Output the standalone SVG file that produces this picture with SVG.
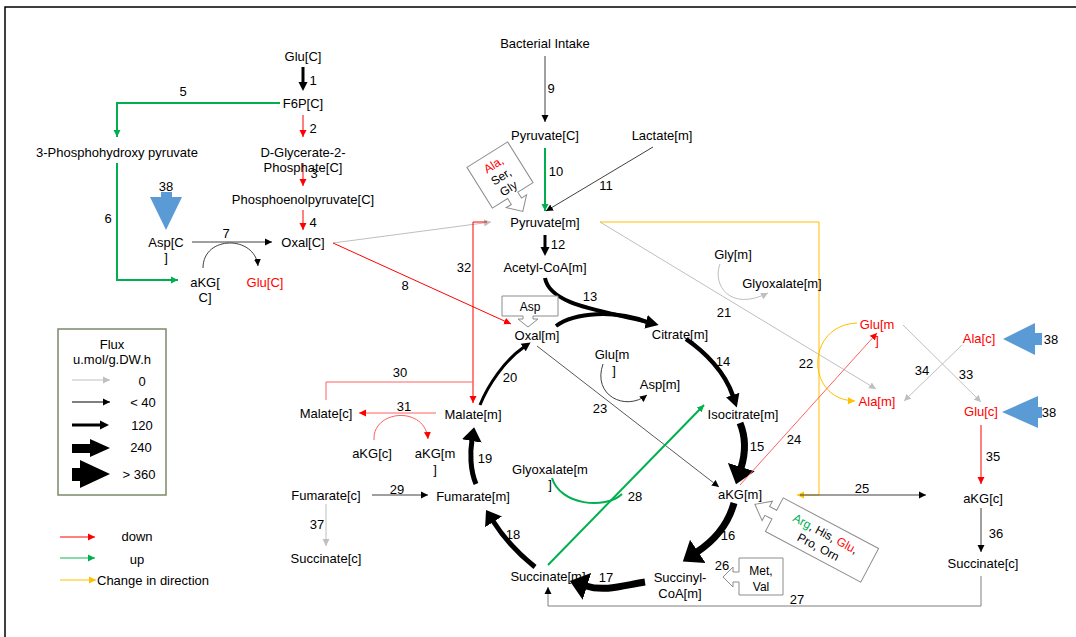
<svg xmlns="http://www.w3.org/2000/svg" width="1076" height="637" viewBox="0 0 1076 637">
<style>
text{font-family:"Liberation Sans",Arial,sans-serif;font-size:13px;fill:#000;text-anchor:middle}
.r{fill:#FF0000}
.g{fill:#00B050}
.sm{font-size:12px}
.ln{fill:none;stroke:#000;stroke-width:1}
.dk{fill:none;stroke:#404040;stroke-width:1}
.gy{fill:none;stroke:#BFBFBF;stroke-width:1}
.rd{fill:none;stroke:#FF0000;stroke-width:1}
.rl{fill:none;stroke:#FF6060;stroke-width:1}
.gn{fill:none;stroke:#00B050;stroke-width:2}
.yl{fill:none;stroke:#FFC000;stroke-width:1}
.th{fill:none;stroke:#000}
.co{fill:#fff;stroke:#8C8C8C;stroke-width:1}
.bl{fill:#5B9BD5}
</style>
<defs>
<marker id="mk" markerUnits="userSpaceOnUse" markerWidth="8" markerHeight="8" refX="7" refY="4" orient="auto"><path d="M0,0.5 L7,4 L0,7.5 z" fill="#000"/></marker>
<marker id="mgy" markerUnits="userSpaceOnUse" markerWidth="8" markerHeight="8" refX="7" refY="4" orient="auto"><path d="M0,0.5 L7,4 L0,7.5 z" fill="#BFBFBF"/></marker>
<marker id="mr" markerUnits="userSpaceOnUse" markerWidth="8" markerHeight="8" refX="7" refY="4" orient="auto"><path d="M0,0.5 L7,4 L0,7.5 z" fill="#FF0000"/></marker>
<marker id="mg" markerUnits="userSpaceOnUse" markerWidth="8" markerHeight="8" refX="7" refY="4" orient="auto"><path d="M0,0.5 L7,4 L0,7.5 z" fill="#00B050"/></marker>
<marker id="my" markerUnits="userSpaceOnUse" markerWidth="8" markerHeight="8" refX="7" refY="4" orient="auto"><path d="M0,0.5 L7,4 L0,7.5 z" fill="#FFC000"/></marker>
<marker id="m3" markerUnits="userSpaceOnUse" markerWidth="10" markerHeight="10" refX="1" refY="5" orient="auto"><path d="M0,0.5 L9,5 L0,9.5 z" fill="#000"/></marker>
<marker id="m13" markerUnits="userSpaceOnUse" markerWidth="14" markerHeight="16" refX="1" refY="8" orient="auto"><path d="M0,1 L13,8 L0,15 z" fill="#000"/></marker>
<marker id="m5" markerUnits="userSpaceOnUse" markerWidth="16" markerHeight="22" refX="1" refY="11" orient="auto"><path d="M0,1 L14,11 L0,21 z" fill="#000"/></marker>
<marker id="m7" markerUnits="userSpaceOnUse" markerWidth="20" markerHeight="30" refX="1" refY="15" orient="auto"><path d="M0,1 L18,15 L0,29 z" fill="#000"/></marker>
</defs>
<rect width="1076" height="637" fill="#fff"/>
<path d="M5,637 V7 H1076" fill="none" stroke="#000" stroke-width="1.5"/>

<g id="connectors">
<path class="th" stroke-width="3" d="M303,67 V83" marker-end="url(#m3)"/>
<path class="rd" d="M303,115 V137" marker-end="url(#mr)"/>
<path class="rd" d="M303,163 V186" marker-end="url(#mr)"/>
<path class="rd" d="M303,210 V230" marker-end="url(#mr)"/>
<path class="gn" d="M280,103 H117 V137" marker-end="url(#mg)"/>
<path class="gn" d="M117,163 V280 H178" marker-end="url(#mg)"/>
<path class="dk" d="M192,242 H272" marker-end="url(#mk)"/>
<path class="dk" d="M203,268 C203,235 255,235 258,266" marker-end="url(#mk)"/>
<path class="gy" d="M333,243 L491,222" marker-end="url(#mgy)"/>
<path class="rd" d="M333,243 L511,324" marker-end="url(#mr)"/>
<path class="dk" d="M545,56 V122" marker-end="url(#mk)"/>
<path class="gn" stroke-width="1.5" d="M545,148 V211" marker-end="url(#mg)"/>
<path class="dk" d="M653,147 L546,211" marker-end="url(#mk)"/>
<path class="th" stroke-width="3" d="M545,235 V248" marker-end="url(#m3)"/>
<path class="gy" d="M600,222 L876,389" marker-end="url(#mgy)"/>
<path class="yl" d="M600,222 H819 V495 H797" marker-end="url(#my)"/>
<path class="dk" d="M800,495 H926" marker-end="url(#mk)"/>
<path class="gy" d="M720,264 C712,285 730,312 768,293" marker-end="url(#mgy)"/>
<path class="th" stroke-width="4" d="M545,278 C550,305 600,310 647,322" marker-end="url(#m13)"/>
<path class="th" stroke-width="4" d="M556,326 C575,312 615,310 647,322"/>
<path class="th" stroke-width="4.5" d="M686,339 C705,352 725,372 733,396" marker-end="url(#m13)"/>
<path class="th" stroke-width="7" d="M740,423 C747,440 745,455 741,468" marker-end="url(#m7)"/>
<path class="th" stroke-width="7" d="M734,503 C728,525 715,540 697,552" marker-end="url(#m7)"/>
<path class="th" stroke-width="7" d="M645,582 C625,585 605,592 586,586" marker-end="url(#m7)"/>
<path class="th" stroke-width="5" d="M535,567 C520,555 505,540 493,521" marker-end="url(#m5)"/>
<path class="th" stroke-width="5" d="M476,484 C470,470 470,452 472,440" marker-end="url(#m5)"/>
<path class="th" stroke-width="3" d="M480,405 C488,385 505,360 524,347" marker-end="url(#m3)"/>
<path class="yl" d="M857,323 C805,325 805,400 855,401" marker-end="url(#my)"/>
<path class="rl" d="M740,485 L877,333" marker-end="url(#mr)"/>
<path class="gy" d="M903,325 L981,402" marker-end="url(#mgy)"/>
<path class="gy" d="M962,345 L904,401" marker-end="url(#mgy)"/>
<path class="rd" stroke-width="1.5" d="M981,425 V484" marker-end="url(#mr)"/>
<path class="dk" d="M981,508 V552" marker-end="url(#mk)"/>
<path fill="none" stroke="#7F7F7F" stroke-width="1" d="M981,576 V606 H548 V587" marker-end="url(#mk)"/>
<path fill="none" stroke="#595959" stroke-width="1" d="M537,346 L719,487" marker-end="url(#mk)"/>
<path class="dk" d="M603,364 C592,395 625,412 647,395" marker-end="url(#mk)"/>
<path class="gn" d="M548,565 L704,405" marker-end="url(#mg)"/>
<path class="gn" d="M552,478 C560,505 605,510 622,494"/>
<path class="rd" stroke-width="2" d="M487,222 H473 V403" marker-end="url(#mr)"/>
<path class="rl" d="M326,400 V382 H473"/>
<path class="rl" d="M436,413 H359" marker-end="url(#mr)"/>
<path class="rl" d="M374,440 C372,410 425,405 428,439" marker-end="url(#mr)"/>
<path class="dk" d="M372,495 H428" marker-end="url(#mk)"/>
<path class="gy" d="M326,504 V546" marker-end="url(#mgy)"/>
</g>

<g id="labels">
<text x="313" y="85">1</text><text x="313" y="133">2</text><text x="314" y="178">3</text><text x="313" y="227">4</text>
<text x="183" y="96">5</text><text x="108" y="223">6</text><text x="226" y="238">7</text><text x="405" y="290">8</text>
<text x="551" y="93">9</text><text x="556" y="176">10</text><text x="606" y="190">11</text><text x="558" y="249">12</text>
<text x="590" y="301">13</text><text x="723" y="366">14</text><text x="757" y="451">15</text><text x="728" y="540">16</text>
<text x="606" y="582">17</text><text x="513" y="539">18</text><text x="485" y="463">19</text><text x="510" y="382">20</text>
<text x="724" y="317">21</text><text x="806" y="368">22</text><text x="600" y="413">23</text><text x="794" y="444">24</text>
<text x="862" y="493">25</text><text x="722" y="570">26</text><text x="797" y="604">27</text><text x="635" y="501">28</text>
<text x="397" y="494">29</text><text x="400" y="377">30</text><text x="404" y="411">31</text><text x="464" y="272">32</text>
<text x="966" y="379">33</text><text x="922" y="375">34</text><text x="993" y="461">35</text><text x="996" y="538">36</text>
<text x="317" y="529">37</text><text x="166" y="191">38</text><text x="1051" y="344">38</text><text x="1049" y="417">38</text>
</g>

<g id="n-glu-c"><text x="303" y="61">Glu[C]</text></g>
<g id="n-f6p"><text x="303" y="108">F6P[C]</text></g>
<g id="n-3php"><text x="117" y="157">3-Phosphohydroxy pyruvate</text></g>
<g id="n-dg2p"><text x="303" y="157">D-Glycerate-2-</text><text x="303" y="172">Phosphate[C]</text></g>
<g id="n-pep"><text x="303" y="204">Phosphoenolpyruvate[C]</text></g>
<g id="n-oxal-c"><text x="303" y="247">Oxal[C]</text></g>
<g id="n-asp-c"><path class="bl" d="M161,192 H172 V197 H182 L166,230 L150,197 H161 Z"/><text x="166" y="247">Asp[C</text><text x="166" y="262">]</text></g>
<g id="n-akg-c1"><text x="205" y="287">aKG[</text><text x="205" y="302">C]</text></g>
<g id="n-glu-c2"><text class="r" x="265" y="287">Glu[C]</text></g>
<g id="n-bact"><text x="545" y="48">Bacterial Intake</text></g>
<g id="n-pyr-c"><text x="545" y="140">Pyruvate[C]</text></g>
<g id="n-lac"><text x="662" y="140">Lactate[m]</text></g>
<g id="n-alasergly"><g transform="translate(500,175) rotate(-32)"><path class="co" d="M-24,-24 H24 V24 H6 V31 H12 L0,43 L-12,31 H-6 V24 H-24 Z"/><text class="sm r" x="0" y="-8">Ala,</text><text class="sm" x="0" y="6">Ser,</text><text class="sm" x="0" y="20">Gly</text></g></g>
<g id="n-pyr-m"><text x="545" y="227">Pyruvate[m]</text></g>
<g id="n-acoa"><text x="545" y="272">Acetyl-CoA[m]</text></g>
<g id="n-gly"><text x="733" y="259">Gly[m]</text></g>
<g id="n-glyox1"><text x="782" y="288">Glyoxalate[m]</text></g>
<g id="n-aspbox"><path class="co" d="M502,296 H558 V316 H533 V319 H538 L528,327 L518,319 H523 V316 H502 Z"/><text class="sm" x="530" y="311">Asp</text></g>
<g id="n-oxal-m"><text x="537" y="340">Oxal[m]</text></g>
<g id="n-cit"><text x="680" y="339">Citrate[m]</text></g>
<g id="n-glu-m1"><text x="612" y="359">Glu[m</text><text x="614" y="375">]</text></g>
<g id="n-asp-m"><text x="660" y="389">Asp[m]</text></g>
<g id="n-iso"><text x="743" y="419">Isocitrate[m]</text></g>
<g id="n-akg-m"><text x="740" y="499">aKG[m]</text></g>
<g id="n-sucoa"><text x="680" y="582">Succinyl-</text><text x="680" y="598">CoA[m]</text></g>
<g id="n-metval"><path class="co" d="M739,558 H783 V595 H739 V582 H733 V587 L723,577 L733,567 V572 H739 Z"/><text class="sm" x="761" y="575">Met,</text><text class="sm" x="761" y="591">Val</text></g>
<g id="n-arg"><g transform="translate(822,540) rotate(28)"><path class="co" d="M-54,-19 H54 V19 H-54 V5 H-62 V11 L-76,0 L-62,-11 V-5 H-54 Z"/><text class="sm" x="0" y="-3"><tspan class="g">Arg</tspan>, His, <tspan class="r">Glu</tspan>,</text><text class="sm" x="0" y="12">Pro, Orn</text></g></g>
<g id="n-succ-m"><text x="548" y="581">Succinate[m]</text></g>
<g id="n-fum-m"><text x="473" y="501">Fumarate[m]</text></g>
<g id="n-mal-m"><text x="473" y="419">Malate[m]</text></g>
<g id="n-mal-c"><text x="326" y="418">Malate[c]</text></g>
<g id="n-akg-c2"><text x="372" y="458">aKG[c]</text></g>
<g id="n-akg-m2"><text x="435" y="458">aKG[m</text><text x="435" y="474">]</text></g>
<g id="n-fum-c"><text x="326" y="500">Fumarate[c]</text></g>
<g id="n-succ-c1"><text x="326" y="563">Succinate[c]</text></g>
<g id="n-glyox2"><text x="550" y="474">Glyoxalate[m</text><text x="550" y="489">]</text></g>
<g id="n-glu-m2"><text class="r" x="877" y="329">Glu[m</text><text class="r" x="877" y="345">]</text></g>
<g id="n-ala-m"><text class="r" x="877" y="406">Ala[m]</text></g>
<g id="n-ala-c"><path class="bl" d="M1042,333 V345 H1035 V355 L1003,339 L1035,323 V333 Z"/><text class="r" x="979" y="343">Ala[c]</text></g>
<g id="n-glu-c3"><path class="bl" d="M1042,407 V418 H1038 V428 L1002,412 L1038,396 V407 Z"/><text class="r" x="981" y="416">Glu[c]</text></g>
<g id="n-akg-c3"><text x="983" y="503">aKG[c]</text></g>
<g id="n-succ-c2"><text x="983" y="568">Succinate[c]</text></g>

<g id="legend">
<rect x="58" y="329" width="108" height="166" fill="#fff" stroke="#7A8A6A" stroke-width="1.5"/>
<text x="112" y="349">Flux</text><text x="112" y="364">u.mol/g.DW.h</text>
<path class="gy" d="M72,380 H110" marker-end="url(#mgy)"/><text x="142" y="386">0</text>
<path class="ln" d="M72,402 H110" marker-end="url(#mk)"/><text x="143" y="407">&lt; 40</text>
<path class="th" stroke-width="3" d="M72,425 H101" marker-end="url(#m3)"/><text x="142" y="430">120</text>
<path d="M72,444 H90 V439 L110,448 L90,457 V453 H72 Z" fill="#000"/><text x="141" y="452">240</text>
<path d="M72,468 H80 V460 L110,474 L80,488 V481 H72 Z" fill="#000"/><text x="139" y="479">&gt; 360</text>
<path class="rd" d="M60,537 H95" marker-end="url(#mr)"/><text x="137" y="541">down</text>
<path fill="none" stroke="#5CD08A" stroke-width="1.5" d="M60,558 H95" marker-end="url(#mg)"/><text x="137" y="564">up</text>
<path class="yl" d="M60,580 H96" marker-end="url(#my)"/><text x="97" y="585" style="text-anchor:start">Change in direction</text>
</g>
</svg>
